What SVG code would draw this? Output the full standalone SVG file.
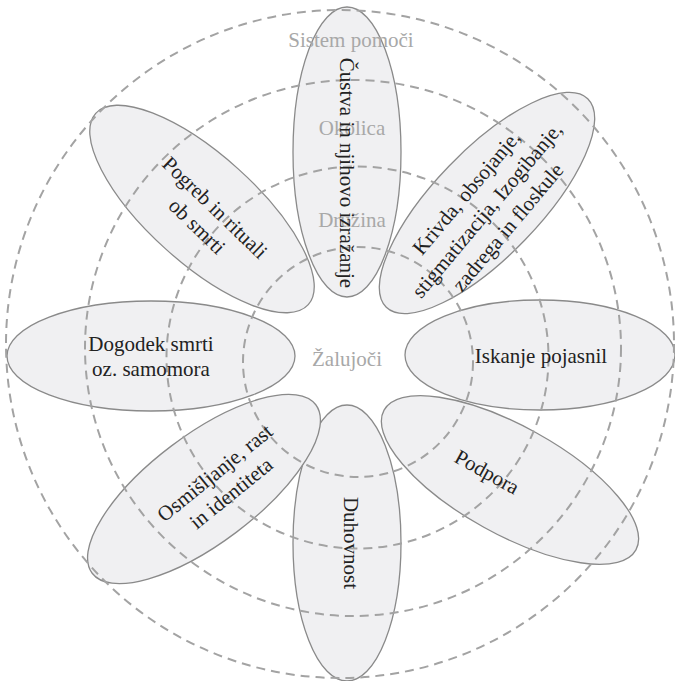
<svg xmlns="http://www.w3.org/2000/svg" width="675" height="681" viewBox="0 0 675 681">
<style>
.petal{fill:#f0f0f2;stroke:#8a8a8a;stroke-width:1.3}
.ring{fill:none;stroke:#a3a3a3;stroke-width:2;stroke-dasharray:9 6}
.lbl{font-family:"Liberation Serif","DejaVu Serif",serif;font-size:21px;fill:#222;text-anchor:middle}
.ringlbl{font-family:"Liberation Serif","DejaVu Serif",serif;font-size:21px;fill:#a8a8a8;text-anchor:middle}
</style>
<rect width="675" height="681" fill="#fff"/>
<g id="petal-shapes">
<ellipse id="e-custva" class="petal" cx="347" cy="152" rx="54" ry="145"/>
<ellipse id="e-krivda" class="petal" cx="0" cy="0" rx="145" ry="53" transform="translate(487,203) rotate(-46)"/>
<ellipse id="e-iskanje" class="petal" cx="540" cy="355" rx="135" ry="55"/>
<ellipse id="e-podpora" class="petal" cx="0" cy="0" rx="144" ry="54" transform="translate(510,480) rotate(29)"/>
<ellipse id="e-duhovnost" class="petal" cx="347" cy="543" rx="54" ry="138"/>
<ellipse id="e-osmisljanje" class="petal" cx="0" cy="0" rx="140" ry="54" transform="translate(204,489) rotate(-37)"/>
<ellipse id="e-dogodek" class="petal" cx="151" cy="356" rx="144" ry="55"/>
<ellipse id="e-pogreb" class="petal" cx="0" cy="0" rx="143" ry="54" transform="translate(202,209) rotate(42)"/>
</g>
<g id="rings">
<circle class="ring" cx="340" cy="344" r="334"/>
<circle class="ring" cx="353" cy="348" r="268"/>
<circle class="ring" cx="357.5" cy="357.5" r="191"/>
<circle class="ring" cx="358" cy="362" r="115"/>
<text class="ringlbl" x="351" y="47">Sistem pomoči</text>
<text class="ringlbl" x="352" y="135">Okolica</text>
<text class="ringlbl" x="352" y="227">Družina</text>
<text class="ringlbl" x="347" y="366">Žalujoči</text>
</g>
<g id="connectors"/>
<g id="n-custva"><text class="lbl" transform="translate(340,173) rotate(90)">Čustva in njihovo izražanje</text></g>
<g id="n-krivda" transform="translate(487,210) rotate(-50)">
<text class="lbl" x="0" y="-20">Krivda, obsojanje,</text>
<text class="lbl" x="0" y="7">stigmatizacija, Izogibanje,</text>
<text class="lbl" x="0" y="34">zadrega in floskule</text>
</g>
<g id="n-iskanje"><text class="lbl" x="541" y="363">Iskanje pojasnil</text></g>
<g id="n-podpora"><text class="lbl" transform="translate(487,472) rotate(29) translate(0,7)">Podpora</text></g>
<g id="n-duhovnost"><text class="lbl" transform="translate(344,543) rotate(90)">Duhovnost</text></g>
<g id="n-osmisljanje" transform="translate(223,483) rotate(-39)">
<text class="lbl" x="0" y="-6">Osmišljanje, rast</text>
<text class="lbl" x="0" y="20">in identiteta</text>
</g>
<g id="n-dogodek">
<text class="lbl" x="151" y="351">Dogodek smrti</text>
<text class="lbl" x="151" y="376">oz. samomora</text>
</g>
<g id="n-pogreb" transform="translate(206,217) rotate(44)">
<text class="lbl" x="0" y="-6">Pogreb in rituali</text>
<text class="lbl" x="0" y="20">ob smrti</text>
</g>
</svg>
